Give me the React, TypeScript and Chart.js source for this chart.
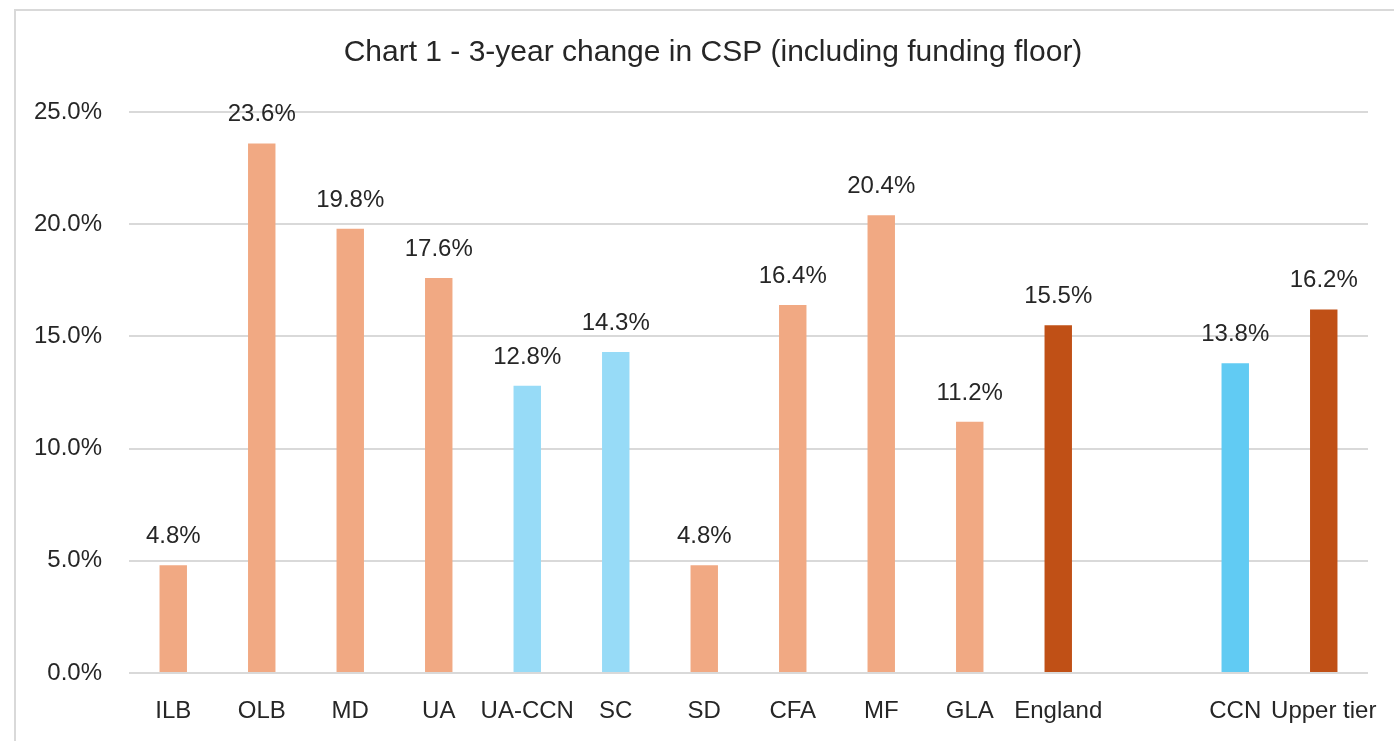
import React, { useEffect, useRef } from "react";
import { Chart, registerables } from "chart.js";

Chart.register(...registerables);

const categories = ["ILB", "OLB", "MD", "UA", "UA-CCN", "SC", "SD", "CFA", "MF", "GLA", "England", "", "CCN", "Upper tier"];
const values: (number | null)[] = [4.8, 23.6, 19.8, 17.6, 12.8, 14.3, 4.8, 16.4, 20.4, 11.2, 15.5, null, 13.8, 16.2];
const barColors = [
  "#F1A983", "#F1A983", "#F1A983", "#F1A983", "#97DBF7", "#97DBF7", "#F1A983",
  "#F1A983", "#F1A983", "#F1A983", "#C05016", "#FFFFFF", "#61CBF3", "#C05016",
];
const yTicks = [0, 5, 10, 15, 20, 25];
const title = "Chart 1 - 3-year change in CSP (including funding floor)";

const FONT = "'Liberation Sans', Arial, sans-serif";

export default function App() {
  const ref = useRef<HTMLCanvasElement | null>(null);
  useEffect(() => {
    if (!ref.current) return;
    const frame = {
      id: "frame",
      beforeDraw(chart: any) {
        const ctx = chart.ctx;
        ctx.save();
        ctx.fillStyle = "#FFFFFF";
        ctx.fillRect(0, 0, chart.width, chart.height);
        ctx.strokeStyle = "#D9D9D9";
        ctx.lineWidth = 2;
        ctx.strokeRect(15, 10, chart.width + 20, chart.height + 20);
        ctx.restore();
      },
    };
    const titlePlugin = {
      id: "customTitle",
      afterDraw(chart: any) {
        const ctx = chart.ctx;
        ctx.save();
        ctx.fillStyle = "#262626";
        ctx.font = `30px ${FONT}`;
        ctx.textAlign = "center";
        ctx.textBaseline = "middle";
        ctx.fillText(title, 713, 53);
        ctx.restore();
      },
    };
    const labelsPlugin = {
      id: "valueLabels",
      afterDatasetsDraw(chart: any) {
        const ctx = chart.ctx;
        const meta = chart.getDatasetMeta(0);
        ctx.save();
        ctx.fillStyle = "#262626";
        ctx.font = `24px ${FONT}`;
        ctx.textAlign = "center";
        ctx.textBaseline = "alphabetic";
        meta.data.forEach((bar: any, i: number) => {
          const v = values[i];
          if (v === null || v === undefined) return;
          ctx.fillText(v.toFixed(1) + "%", bar.x, bar.y - 22);
        });
        ctx.restore();
      },
    };
    const chart = new Chart(ref.current, {
      type: "bar",
      data: {
        labels: categories,
        datasets: [
          {
            data: values as any,
            backgroundColor: barColors,
            borderWidth: 0,
            barPercentage: 0.31,
            categoryPercentage: 1,
          },
        ],
      },
      plugins: [frame, titlePlugin, labelsPlugin],
      options: {
        animation: false,
        responsive: false,
        maintainAspectRatio: false,
        layout: { padding: { top: 112, right: 26, bottom: 0, left: 0 } },
        plugins: {
          legend: { display: false },
          title: { display: false },
          tooltip: { enabled: false },
        },
        scales: {
          x: {
            grid: { display: false, drawTicks: false },
            border: { display: false },
            ticks: {
              color: "#262626",
              font: { family: FONT, size: 24 },
              padding: 24,
              maxRotation: 0,
              minRotation: 0,
              autoSkip: false,
            },
            afterFit(scale: any) {
              scale.height = 68;
              scale.paddingLeft = 0;
              scale.paddingRight = 0;
            },
          },
          y: {
            min: 0,
            max: 25,
            afterBuildTicks(scale: any) {
              scale.ticks = yTicks.map((v) => ({ value: v }));
            },
            grid: { color: "#D9D9D9", lineWidth: 2, drawTicks: false },
            border: { display: false },
            ticks: {
              color: "#262626",
              font: { family: FONT, size: 24 },
              padding: 27,
              callback: (v: any) => Number(v).toFixed(1) + "%",
            },
            afterFit(scale: any) {
              scale.width = 129;
            },
          },
        },
      },
    });
    return () => chart.destroy();
  }, []);
  return (
    <div style={{ position: "absolute", left: 0, top: 0, width: 1394, height: 741 }}>
      <canvas ref={ref} width={1394} height={741} style={{ display: "block", width: 1394, height: 741 }} />
    </div>
  );
}
